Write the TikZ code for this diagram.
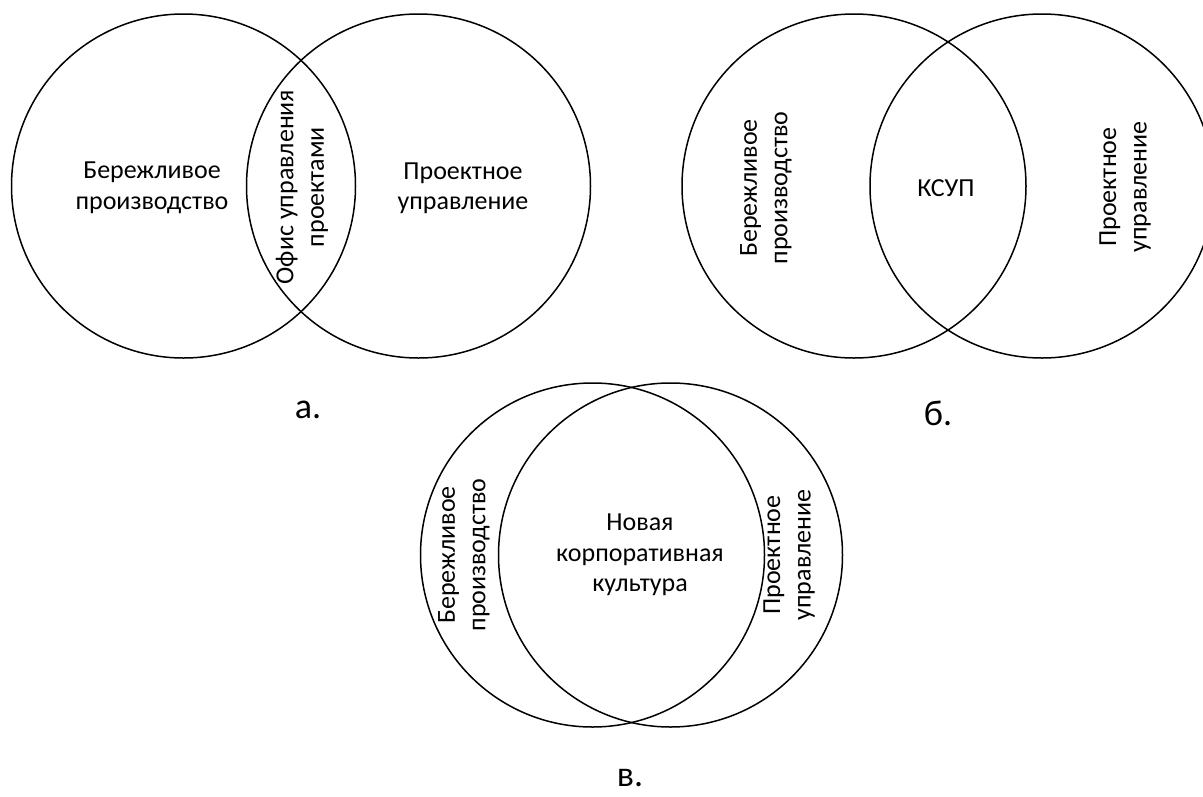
\documentclass[tikz,border=0pt]{standalone}
\usepackage{fontspec}
\setmainfont{Carlito}
\begin{document}
\begin{tikzpicture}[x=1pt,y=-1pt,
  ring/.style={draw=black,line width=1.5pt},
  txt/.style={align=center,inner sep=0pt,font=\fontsize{26}{30.5}\selectfont},
  vtxt/.style={txt,rotate=90},
  lbl/.style={anchor=base,inner sep=0pt,font=\fontsize{36}{40}\selectfont}]
\useasboundingbox (0,0) rectangle (1203,796);
\clip (0,0) rectangle (1203,796);
% diagram a
\draw[ring] (183.5,186) circle[radius=172];
\draw[ring] (418.5,186) circle[radius=172];
\node[txt] (a1) at (152,188) {Бережливое\\производство};
\node[txt] (a2) at (463,188) {Проектное\\управление};
\node[vtxt] (a3) at (302,187) {Офис управления\\проектами};
\node[lbl] (la) at (308,418) {а.};
% diagram b
\draw[ring] (854,186) circle[radius=172];
\draw[ring] (1042,186) circle[radius=172];
\node[vtxt] (b1) at (766,188) {Бережливое\\производство};
\node[txt] (b2) at (946,188) {КСУП};
\node[vtxt] (b3) at (1125,187) {Проектное\\управление};
\node[lbl] (lb) at (938,425) {б.};
% diagram v
\draw[ring] (592.5,555) circle[radius=172];
\draw[ring] (670.5,555) circle[radius=172];
\node[vtxt] (c1) at (464,555) {Бережливое\\производство};
\node[txt] (c2) at (640,555) {Новая\\корпоративная\\культура};
\node[vtxt] (c3) at (789,555) {Проектное\\управление};
\node[lbl] (lc) at (630,786) {в.};
\end{tikzpicture}
\end{document}
